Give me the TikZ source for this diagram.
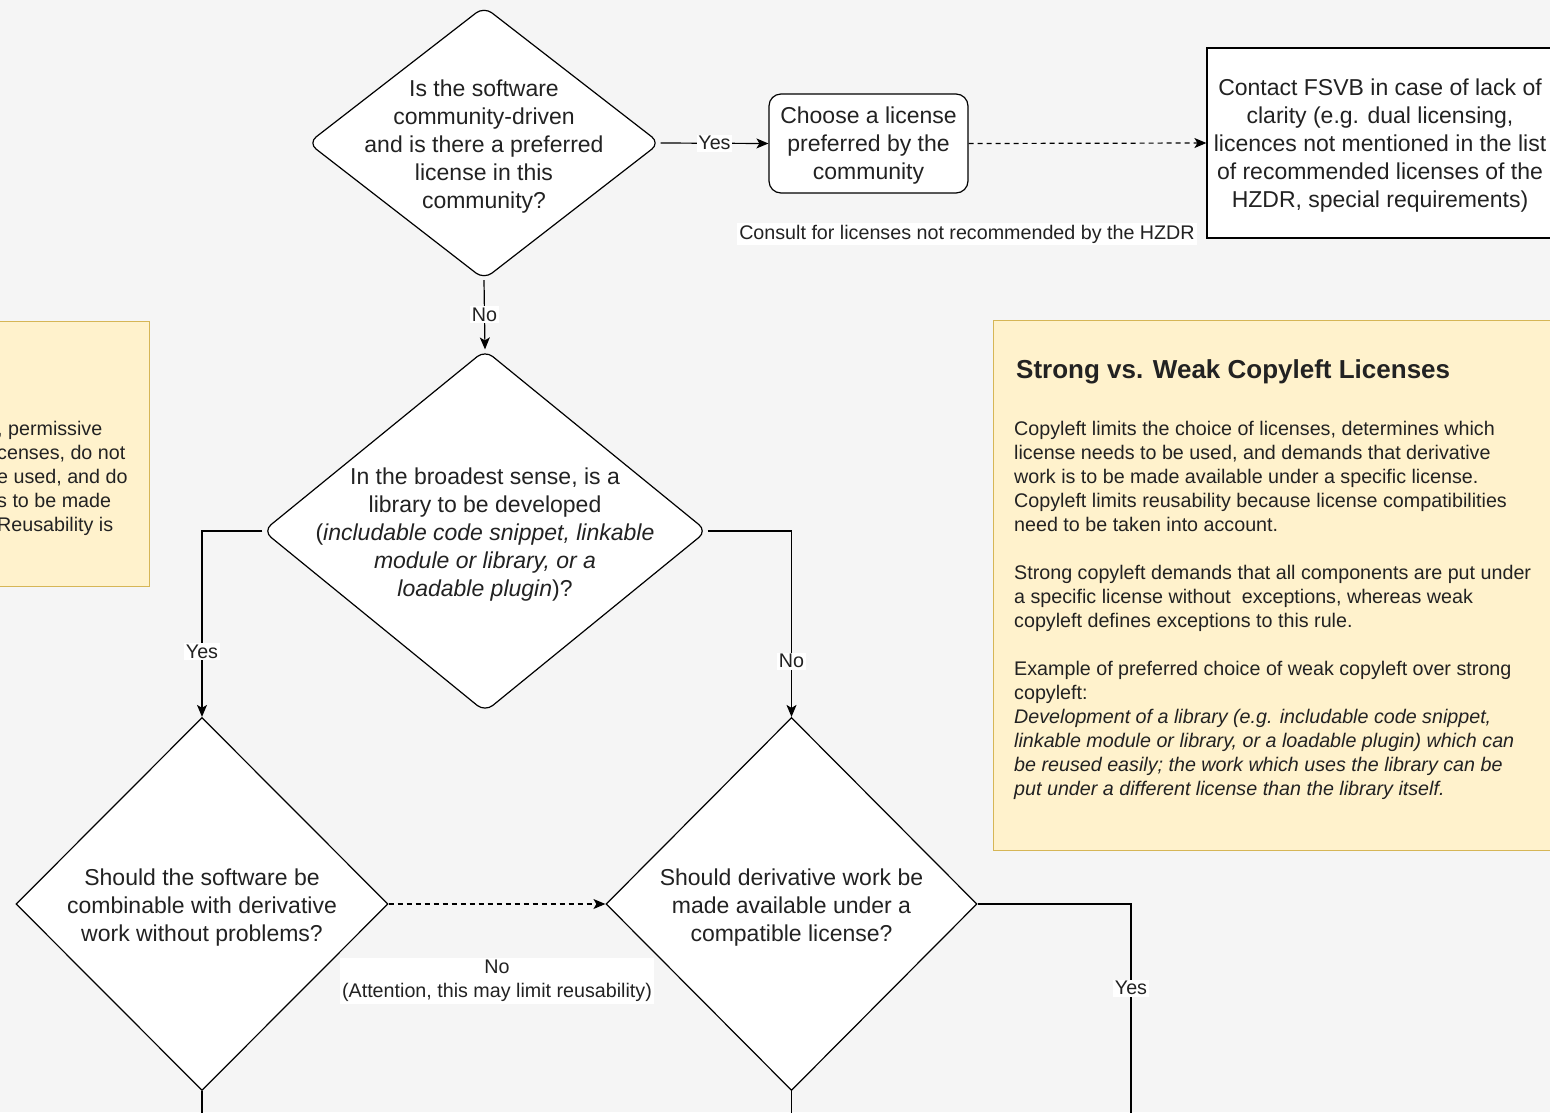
\documentclass[tikz,border=0pt]{standalone}
\usepackage{fontspec}
\setmainfont{Liberation Sans}
\usetikzlibrary{shapes.geometric}
\usetikzlibrary{arrows.meta}
\usetikzlibrary{positioning}
\definecolor{pagebg}{HTML}{F5F5F5}
\definecolor{notefill}{HTML}{FFF2CC}
\definecolor{noteline}{HTML}{D6B656}
\definecolor{ink}{HTML}{222222}

\begin{document}
\begin{tikzpicture}[x=1pt, y=-1pt,
every node/.style={font=\fontsize{23}{28}\selectfont, text=ink},
question/.style={diamond, draw=black, fill=white, line width=1.2pt, inner sep=0pt},
qtext/.style={align=center, yshift=-3.5pt},
choice/.style={rectangle, draw=black, fill=white, line width=1.2pt, align=center},
note/.style={rectangle, draw=noteline, fill=notefill, line width=1.2pt},
small/.style={font=\fontsize{19.7}{24}\selectfont},
lbl/.style={small, fill=white, inner sep=1.5pt},
arr/.style={draw=black, line width=1.2pt, -{Stealth[length=12pt,width=10pt,inset=3pt]}},
link/.style={draw=black, line width=1.2pt},
dashline/.style={dash pattern=on 5pt off 4pt}]
\useasboundingbox (0,0) rectangle (1550,1112);
\clip (0,0) rectangle (1550,1112);
\fill[pagebg] (0,0) rectangle (1550,1112);

\node[note, minimum width=170pt, minimum height=265pt, anchor=north east] (permnote) at (150,321) {};
\node[small, align=left, anchor=north west, inner sep=0pt] (permtext) at (-3,421)
{, permissive\\censes, do not\\e used, and do\\s to be made\\Reusability is};

\node[note, minimum width=570pt, minimum height=530pt, anchor=north west] (strongnote) at (993,320) {};
\node[font=\fontsize{26}{30}\selectfont\bfseries, anchor=west, inner sep=0pt] (strongtitle) at (1016,372)
{Strong vs. Weak Copyleft Licenses};
\node[small, align=left, anchor=north west, inner sep=0pt] (strongtext) at (1014,421)
{Copyleft limits the choice of licenses, determines which\\
license needs to be used, and demands that derivative\\
work is to be made available under a specific license.\\
Copyleft limits reusability because license compatibilities\\
need to be taken into account.\\[24pt]
Strong copyleft demands that all components are put under\\
a specific license without \ exceptions, whereas weak\\
copyleft defines exceptions to this rule.\\[24pt]
Example of preferred choice of weak copyleft over strong\\
copyleft:\\
\textit{Development of a library (e.g. includable code snippet,}\\
\textit{linkable module or library, or a loadable plugin) which can}\\
\textit{be reused easily; the work which uses the library can be}\\
\textit{put under a different license than the library itself.}};

\node[question, rounded corners=10pt, minimum width=352pt, minimum height=273pt] (community) at (484,143) {};
\node[qtext] (communitytext) at (community)
{Is the software\\community-driven\\and is there a preferred\\license in this\\community?};
\node[choice, rounded corners=12pt, minimum width=199pt, minimum height=99pt, text height=77pt] (prefer) at (868.5,143.5)
{Choose a license\\preferred by the\\community};
\node[choice, minimum width=346pt, minimum height=190pt, text height=134pt] (fsvb) at (1380,143)
{Contact FSVB in case of lack of\\clarity (e.g. dual licensing,\\licences not mentioned in the list\\of recommended licenses of the\\HZDR, special requirements)};
\node[lbl, inner sep=2pt] (consult) at (967,234) {Consult for licenses not recommended by the HZDR};

\node[question, rounded corners=10pt, minimum width=444pt, minimum height=362pt] (library) at (485,531) {};
\node[qtext] (librarytext) at (library)
{In the broadest sense, is a\\library to be developed\\(\textit{includable code snippet, linkable}\\\textit{module or library, or a}\\\textit{loadable plugin})?};

\node[question, minimum width=372pt, minimum height=373pt] (combine) at (202,904) {};
\node[qtext] (combinetext) at (combine)
{Should the software be\\combinable with derivative\\work without problems?};
\node[question, minimum width=371pt, minimum height=373pt] (compat) at (791.5,904) {};
\node[qtext] (compattext) at (compat)
{Should derivative work be\\made available under a\\compatible license?};

\coordinate (combineend) at (202,1120);
\coordinate (compatend) at (791.5,1120);
\coordinate (yesend) at (1131,1120);

\draw[arr] (community.east) -- node[lbl] {Yes} (prefer.west);
\draw[arr, dashline] (prefer.east) -- (fsvb.west);
\draw[arr] (community.south) -- node[lbl] {No} (library.north);
\draw[arr] (library.west) -| node[lbl, pos=0.825] {Yes} (combine.north);
\draw[arr] (library.east) -| node[lbl, pos=0.85] {No} (compat.north);
\draw[arr, dashline] (combine.east) -- node[lbl, inner sep=2pt, yshift=-77pt, align=center]
{No\\(Attention, this may limit reusability)} (compat.west);
\draw[link] (combine.south) -- (combineend);
\draw[link] (compat.south) -- (compatend);
\draw[link] (compat.east) -| node[lbl, pos=0.695] {Yes} (yesend);
\end{tikzpicture}
\end{document}
